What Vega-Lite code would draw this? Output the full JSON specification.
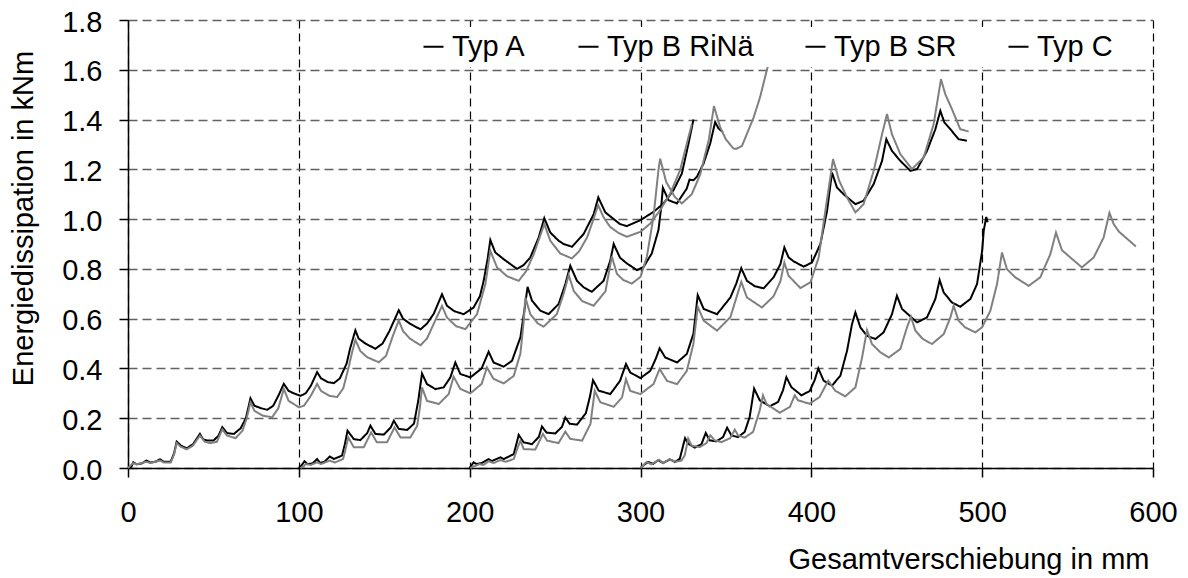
{
"$schema": "https://vega.github.io/schema/vega-lite/v6.json",
"width": 1025, "height": 448,
"autosize": {"type": "none"},
"padding": {"left": 128, "top": 20, "right": 35, "bottom": 110},
"background": "white",
"config": {"view": {"stroke": null}, "font": "Liberation Sans"},
"data": {"values": [
{"t":"Typ A","p":"s","x":0,"y":0},{"t":"Typ A","p":"s","x":2,"y":0.005},{"t":"Typ A","p":"s","x":3.1,"y":0.023},{"t":"Typ A","p":"s","x":5,"y":0.015},{"t":"Typ A","p":"s","x":8,"y":0.018},{"t":"Typ A","p":"s","x":10.9,"y":0.03},{"t":"Typ A","p":"s","x":13,"y":0.022},{"t":"Typ A","p":"s","x":16,"y":0.025},{"t":"Typ A","p":"s","x":18.7,"y":0.035},{"t":"Typ A","p":"s","x":21,"y":0.025},{"t":"Typ A","p":"s","x":25,"y":0.025},{"t":"Typ A","p":"s","x":27,"y":0.06},{"t":"Typ A","p":"s","x":28.5,"y":0.106},{"t":"Typ A","p":"s","x":31,"y":0.09},{"t":"Typ A","p":"s","x":34.3,"y":0.079},{"t":"Typ A","p":"s","x":38,"y":0.095},{"t":"Typ A","p":"s","x":42.1,"y":0.137},{"t":"Typ A","p":"s","x":44,"y":0.115},{"t":"Typ A","p":"s","x":46.4,"y":0.11},{"t":"Typ A","p":"s","x":50,"y":0.11},{"t":"Typ A","p":"s","x":53,"y":0.13},{"t":"Typ A","p":"s","x":55.2,"y":0.164},{"t":"Typ A","p":"s","x":58,"y":0.14},{"t":"Typ A","p":"s","x":62,"y":0.137},{"t":"Typ A","p":"s","x":66,"y":0.16},{"t":"Typ A","p":"s","x":69,"y":0.2},{"t":"Typ A","p":"s","x":71.7,"y":0.28},{"t":"Typ A","p":"s","x":74,"y":0.25},{"t":"Typ A","p":"s","x":78,"y":0.24},{"t":"Typ A","p":"s","x":81.5,"y":0.234},{"t":"Typ A","p":"s","x":85,"y":0.25},{"t":"Typ A","p":"s","x":88,"y":0.29},{"t":"Typ A","p":"s","x":91.2,"y":0.338},{"t":"Typ A","p":"s","x":94,"y":0.31},{"t":"Typ A","p":"s","x":97,"y":0.3},{"t":"Typ A","p":"s","x":101,"y":0.29},{"t":"Typ A","p":"s","x":104,"y":0.3},{"t":"Typ A","p":"s","x":107,"y":0.33},{"t":"Typ A","p":"s","x":110.7,"y":0.385},{"t":"Typ A","p":"s","x":113,"y":0.36},{"t":"Typ A","p":"s","x":117,"y":0.345},{"t":"Typ A","p":"s","x":120.5,"y":0.341},{"t":"Typ A","p":"s","x":124,"y":0.36},{"t":"Typ A","p":"s","x":128,"y":0.42},{"t":"Typ A","p":"s","x":130,"y":0.48},{"t":"Typ A","p":"s","x":133.1,"y":0.553},{"t":"Typ A","p":"s","x":135,"y":0.52},{"t":"Typ A","p":"s","x":139,"y":0.5},{"t":"Typ A","p":"s","x":144.8,"y":0.479},{"t":"Typ A","p":"s","x":149,"y":0.5},{"t":"Typ A","p":"s","x":153,"y":0.55},{"t":"Typ A","p":"s","x":158.5,"y":0.634},{"t":"Typ A","p":"s","x":161,"y":0.6},{"t":"Typ A","p":"s","x":165,"y":0.58},{"t":"Typ A","p":"s","x":171.2,"y":0.557},{"t":"Typ A","p":"s","x":175,"y":0.58},{"t":"Typ A","p":"s","x":179,"y":0.62},{"t":"Typ A","p":"s","x":183.8,"y":0.698},{"t":"Typ A","p":"s","x":186.7,"y":0.652},{"t":"Typ A","p":"s","x":191,"y":0.63},{"t":"Typ A","p":"s","x":196.5,"y":0.618},{"t":"Typ A","p":"s","x":202.3,"y":0.645},{"t":"Typ A","p":"s","x":206,"y":0.69},{"t":"Typ A","p":"s","x":208.2,"y":0.752},{"t":"Typ A","p":"s","x":210.5,"y":0.84},{"t":"Typ A","p":"s","x":212.1,"y":0.916},{"t":"Typ A","p":"s","x":215,"y":0.866},{"t":"Typ A","p":"s","x":219.9,"y":0.839},{"t":"Typ A","p":"s","x":227.7,"y":0.8},{"t":"Typ A","p":"s","x":231.5,"y":0.815},{"t":"Typ A","p":"s","x":235.5,"y":0.846},{"t":"Typ A","p":"s","x":240.4,"y":0.926},{"t":"Typ A","p":"s","x":243.7,"y":1.004},{"t":"Typ A","p":"s","x":247.2,"y":0.946},{"t":"Typ A","p":"s","x":252.1,"y":0.913},{"t":"Typ A","p":"s","x":255,"y":0.9},{"t":"Typ A","p":"s","x":259.9,"y":0.889},{"t":"Typ A","p":"s","x":266.7,"y":0.94},{"t":"Typ A","p":"s","x":272.6,"y":1.02},{"t":"Typ A","p":"s","x":275.3,"y":1.087},{"t":"Typ A","p":"s","x":279.4,"y":1.027},{"t":"Typ A","p":"s","x":284.3,"y":1.0},{"t":"Typ A","p":"s","x":288,"y":0.98},{"t":"Typ A","p":"s","x":292,"y":0.972},{"t":"Typ A","p":"s","x":300,"y":0.996},{"t":"Typ A","p":"s","x":307.6,"y":1.029},{"t":"Typ A","p":"s","x":313.5,"y":1.063},{"t":"Typ A","p":"s","x":319.3,"y":1.116},{"t":"Typ A","p":"s","x":324.2,"y":1.183},{"t":"Typ A","p":"s","x":328.1,"y":1.304},{"t":"Typ A","p":"s","x":331,"y":1.4},
{"t":"Typ A","p":"g","x":0,"y":0},{"t":"Typ A","p":"g","x":3,"y":0.02},{"t":"Typ A","p":"g","x":5,"y":0.015},{"t":"Typ A","p":"g","x":11,"y":0.025},{"t":"Typ A","p":"g","x":13,"y":0.02},{"t":"Typ A","p":"g","x":18.7,"y":0.03},{"t":"Typ A","p":"g","x":21,"y":0.022},{"t":"Typ A","p":"g","x":25,"y":0.022},{"t":"Typ A","p":"g","x":27,"y":0.055},{"t":"Typ A","p":"g","x":28.5,"y":0.1},{"t":"Typ A","p":"g","x":31,"y":0.085},{"t":"Typ A","p":"g","x":34.3,"y":0.075},{"t":"Typ A","p":"g","x":38,"y":0.09},{"t":"Typ A","p":"g","x":42.1,"y":0.13},{"t":"Typ A","p":"g","x":45,"y":0.105},{"t":"Typ A","p":"g","x":48,"y":0.1},{"t":"Typ A","p":"g","x":52,"y":0.105},{"t":"Typ A","p":"g","x":55.2,"y":0.155},{"t":"Typ A","p":"g","x":58,"y":0.13},{"t":"Typ A","p":"g","x":63,"y":0.12},{"t":"Typ A","p":"g","x":67,"y":0.15},{"t":"Typ A","p":"g","x":69.5,"y":0.2},{"t":"Typ A","p":"g","x":71.7,"y":0.264},{"t":"Typ A","p":"g","x":74,"y":0.23},{"t":"Typ A","p":"g","x":79,"y":0.21},{"t":"Typ A","p":"g","x":84.4,"y":0.204},{"t":"Typ A","p":"g","x":88,"y":0.24},{"t":"Typ A","p":"g","x":91.2,"y":0.318},{"t":"Typ A","p":"g","x":94,"y":0.27},{"t":"Typ A","p":"g","x":100,"y":0.244},{"t":"Typ A","p":"g","x":103,"y":0.25},{"t":"Typ A","p":"g","x":107,"y":0.29},{"t":"Typ A","p":"g","x":110.7,"y":0.338},{"t":"Typ A","p":"g","x":113,"y":0.31},{"t":"Typ A","p":"g","x":118,"y":0.29},{"t":"Typ A","p":"g","x":122.4,"y":0.285},{"t":"Typ A","p":"g","x":126,"y":0.32},{"t":"Typ A","p":"g","x":129,"y":0.4},{"t":"Typ A","p":"g","x":131,"y":0.46},{"t":"Typ A","p":"g","x":133.1,"y":0.515},{"t":"Typ A","p":"g","x":136,"y":0.47},{"t":"Typ A","p":"g","x":140,"y":0.445},{"t":"Typ A","p":"g","x":146.8,"y":0.425},{"t":"Typ A","p":"g","x":151,"y":0.45},{"t":"Typ A","p":"g","x":155,"y":0.53},{"t":"Typ A","p":"g","x":158.5,"y":0.593},{"t":"Typ A","p":"g","x":161,"y":0.55},{"t":"Typ A","p":"g","x":165,"y":0.52},{"t":"Typ A","p":"g","x":171.2,"y":0.493},{"t":"Typ A","p":"g","x":175,"y":0.52},{"t":"Typ A","p":"g","x":179,"y":0.58},{"t":"Typ A","p":"g","x":183.8,"y":0.651},{"t":"Typ A","p":"g","x":186.7,"y":0.605},{"t":"Typ A","p":"g","x":192,"y":0.57},{"t":"Typ A","p":"g","x":197.5,"y":0.558},{"t":"Typ A","p":"g","x":204.3,"y":0.618},{"t":"Typ A","p":"g","x":209.2,"y":0.739},{"t":"Typ A","p":"g","x":212.1,"y":0.873},{"t":"Typ A","p":"g","x":216,"y":0.806},{"t":"Typ A","p":"g","x":222,"y":0.77},{"t":"Typ A","p":"g","x":228.7,"y":0.752},{"t":"Typ A","p":"g","x":233,"y":0.79},{"t":"Typ A","p":"g","x":237.5,"y":0.859},{"t":"Typ A","p":"g","x":243.7,"y":0.98},{"t":"Typ A","p":"g","x":247.2,"y":0.913},{"t":"Typ A","p":"g","x":253,"y":0.862},{"t":"Typ A","p":"g","x":259.8,"y":0.842},{"t":"Typ A","p":"g","x":264,"y":0.87},{"t":"Typ A","p":"g","x":268.7,"y":0.926},{"t":"Typ A","p":"g","x":272.5,"y":1.0},{"t":"Typ A","p":"g","x":275.2,"y":1.056},{"t":"Typ A","p":"g","x":278.4,"y":1.007},{"t":"Typ A","p":"g","x":282.2,"y":0.969},{"t":"Typ A","p":"g","x":287,"y":0.945},{"t":"Typ A","p":"g","x":292,"y":0.929},{"t":"Typ A","p":"g","x":300,"y":0.949},{"t":"Typ A","p":"g","x":305.7,"y":0.982},{"t":"Typ A","p":"g","x":311.5,"y":1.036},{"t":"Typ A","p":"g","x":317.4,"y":1.103},{"t":"Typ A","p":"g","x":323.2,"y":1.197},{"t":"Typ A","p":"g","x":328.1,"y":1.33},{"t":"Typ A","p":"g","x":330,"y":1.38},
{"t":"Typ B RiNä","p":"s","x":100,"y":0},{"t":"Typ B RiNä","p":"s","x":101.5,"y":0.01},{"t":"Typ B RiNä","p":"s","x":103.3,"y":0.027},{"t":"Typ B RiNä","p":"s","x":105,"y":0.016},{"t":"Typ B RiNä","p":"s","x":108,"y":0.018},{"t":"Typ B RiNä","p":"s","x":110.7,"y":0.036},{"t":"Typ B RiNä","p":"s","x":112.5,"y":0.02},{"t":"Typ B RiNä","p":"s","x":115,"y":0.025},{"t":"Typ B RiNä","p":"s","x":118.1,"y":0.046},{"t":"Typ B RiNä","p":"s","x":120.5,"y":0.036},{"t":"Typ B RiNä","p":"s","x":125.3,"y":0.05},{"t":"Typ B RiNä","p":"s","x":127,"y":0.097},{"t":"Typ B RiNä","p":"s","x":128.5,"y":0.15},{"t":"Typ B RiNä","p":"s","x":132.2,"y":0.116},{"t":"Typ B RiNä","p":"s","x":136,"y":0.112},{"t":"Typ B RiNä","p":"s","x":140,"y":0.14},{"t":"Typ B RiNä","p":"s","x":141.9,"y":0.17},{"t":"Typ B RiNä","p":"s","x":144.8,"y":0.137},{"t":"Typ B RiNä","p":"s","x":149.7,"y":0.134},{"t":"Typ B RiNä","p":"s","x":153.8,"y":0.163},{"t":"Typ B RiNä","p":"s","x":155.6,"y":0.19},{"t":"Typ B RiNä","p":"s","x":158.5,"y":0.157},{"t":"Typ B RiNä","p":"s","x":163.4,"y":0.153},{"t":"Typ B RiNä","p":"s","x":167.4,"y":0.178},{"t":"Typ B RiNä","p":"s","x":169.9,"y":0.27},{"t":"Typ B RiNä","p":"s","x":172.1,"y":0.38},{"t":"Typ B RiNä","p":"s","x":175,"y":0.337},{"t":"Typ B RiNä","p":"s","x":179.9,"y":0.317},{"t":"Typ B RiNä","p":"s","x":184.8,"y":0.324},{"t":"Typ B RiNä","p":"s","x":188.7,"y":0.364},{"t":"Typ B RiNä","p":"s","x":191.6,"y":0.424},{"t":"Typ B RiNä","p":"s","x":194.5,"y":0.378},{"t":"Typ B RiNä","p":"s","x":200.4,"y":0.364},{"t":"Typ B RiNä","p":"s","x":207,"y":0.4},{"t":"Typ B RiNä","p":"s","x":211.1,"y":0.467},{"t":"Typ B RiNä","p":"s","x":214,"y":0.424},{"t":"Typ B RiNä","p":"s","x":219.9,"y":0.407},{"t":"Typ B RiNä","p":"s","x":224.8,"y":0.431},{"t":"Typ B RiNä","p":"s","x":229.7,"y":0.525},{"t":"Typ B RiNä","p":"s","x":232,"y":0.632},{"t":"Typ B RiNä","p":"s","x":233.9,"y":0.728},{"t":"Typ B RiNä","p":"s","x":236.5,"y":0.672},{"t":"Typ B RiNä","p":"s","x":241.4,"y":0.632},{"t":"Typ B RiNä","p":"s","x":246.2,"y":0.618},{"t":"Typ B RiNä","p":"s","x":252.1,"y":0.659},{"t":"Typ B RiNä","p":"s","x":256,"y":0.739},{"t":"Typ B RiNä","p":"s","x":258.9,"y":0.813},{"t":"Typ B RiNä","p":"s","x":262.8,"y":0.752},{"t":"Typ B RiNä","p":"s","x":266.7,"y":0.726},{"t":"Typ B RiNä","p":"s","x":271.5,"y":0.708},{"t":"Typ B RiNä","p":"s","x":278.4,"y":0.752},{"t":"Typ B RiNä","p":"s","x":282.3,"y":0.833},{"t":"Typ B RiNä","p":"s","x":284.3,"y":0.9},{"t":"Typ B RiNä","p":"s","x":288,"y":0.845},{"t":"Typ B RiNä","p":"s","x":292,"y":0.822},{"t":"Typ B RiNä","p":"s","x":297.9,"y":0.795},{"t":"Typ B RiNä","p":"s","x":301.8,"y":0.808},{"t":"Typ B RiNä","p":"s","x":306.6,"y":0.862},{"t":"Typ B RiNä","p":"s","x":310.5,"y":0.956},{"t":"Typ B RiNä","p":"s","x":312,"y":1.04},{"t":"Typ B RiNä","p":"s","x":313.1,"y":1.126},{"t":"Typ B RiNä","p":"s","x":316.4,"y":1.076},{"t":"Typ B RiNä","p":"s","x":321.3,"y":1.063},{"t":"Typ B RiNä","p":"s","x":327.1,"y":1.123},{"t":"Typ B RiNä","p":"s","x":328.7,"y":1.159},{"t":"Typ B RiNä","p":"s","x":331,"y":1.156},{"t":"Typ B RiNä","p":"s","x":333,"y":1.17},{"t":"Typ B RiNä","p":"s","x":336.9,"y":1.223},{"t":"Typ B RiNä","p":"s","x":340.8,"y":1.304},{"t":"Typ B RiNä","p":"s","x":343.7,"y":1.39},{"t":"Typ B RiNä","p":"s","x":345.7,"y":1.364},{"t":"Typ B RiNä","p":"s","x":348.2,"y":1.35},
{"t":"Typ B RiNä","p":"g","x":100.9,"y":0},{"t":"Typ B RiNä","p":"g","x":103,"y":0.008},{"t":"Typ B RiNä","p":"g","x":104,"y":0.016},{"t":"Typ B RiNä","p":"g","x":107,"y":0.012},{"t":"Typ B RiNä","p":"g","x":110.7,"y":0.023},{"t":"Typ B RiNä","p":"g","x":113,"y":0.016},{"t":"Typ B RiNä","p":"g","x":118.1,"y":0.03},{"t":"Typ B RiNä","p":"g","x":121,"y":0.022},{"t":"Typ B RiNä","p":"g","x":125.9,"y":0.036},{"t":"Typ B RiNä","p":"g","x":127.5,"y":0.08},{"t":"Typ B RiNä","p":"g","x":128.9,"y":0.123},{"t":"Typ B RiNä","p":"g","x":132.2,"y":0.083},{"t":"Typ B RiNä","p":"g","x":138,"y":0.083},{"t":"Typ B RiNä","p":"g","x":142.3,"y":0.143},{"t":"Typ B RiNä","p":"g","x":145.7,"y":0.103},{"t":"Typ B RiNä","p":"g","x":151.6,"y":0.103},{"t":"Typ B RiNä","p":"g","x":156,"y":0.163},{"t":"Typ B RiNä","p":"g","x":159.5,"y":0.123},{"t":"Typ B RiNä","p":"g","x":165.3,"y":0.123},{"t":"Typ B RiNä","p":"g","x":169.3,"y":0.17},{"t":"Typ B RiNä","p":"g","x":171,"y":0.25},{"t":"Typ B RiNä","p":"g","x":172.1,"y":0.324},{"t":"Typ B RiNä","p":"g","x":175,"y":0.27},{"t":"Typ B RiNä","p":"g","x":181.9,"y":0.257},{"t":"Typ B RiNä","p":"g","x":187.7,"y":0.297},{"t":"Typ B RiNä","p":"g","x":190.6,"y":0.367},{"t":"Typ B RiNä","p":"g","x":194.5,"y":0.318},{"t":"Typ B RiNä","p":"g","x":200.4,"y":0.3},{"t":"Typ B RiNä","p":"g","x":207,"y":0.338},{"t":"Typ B RiNä","p":"g","x":210.1,"y":0.404},{"t":"Typ B RiNä","p":"g","x":214,"y":0.358},{"t":"Typ B RiNä","p":"g","x":219.9,"y":0.34},{"t":"Typ B RiNä","p":"g","x":225.8,"y":0.37},{"t":"Typ B RiNä","p":"g","x":229.7,"y":0.46},{"t":"Typ B RiNä","p":"g","x":231.5,"y":0.58},{"t":"Typ B RiNä","p":"g","x":232.6,"y":0.685},{"t":"Typ B RiNä","p":"g","x":235.5,"y":0.618},{"t":"Typ B RiNä","p":"g","x":240,"y":0.58},{"t":"Typ B RiNä","p":"g","x":243.3,"y":0.568},{"t":"Typ B RiNä","p":"g","x":251,"y":0.618},{"t":"Typ B RiNä","p":"g","x":255,"y":0.7},{"t":"Typ B RiNä","p":"g","x":258,"y":0.775},{"t":"Typ B RiNä","p":"g","x":261,"y":0.71},{"t":"Typ B RiNä","p":"g","x":266,"y":0.67},{"t":"Typ B RiNä","p":"g","x":272.6,"y":0.652},{"t":"Typ B RiNä","p":"g","x":279.5,"y":0.71},{"t":"Typ B RiNä","p":"g","x":283.2,"y":0.85},{"t":"Typ B RiNä","p":"g","x":286.2,"y":0.78},{"t":"Typ B RiNä","p":"g","x":290,"y":0.755},{"t":"Typ B RiNä","p":"g","x":294.9,"y":0.741},{"t":"Typ B RiNä","p":"g","x":300,"y":0.768},{"t":"Typ B RiNä","p":"g","x":303.7,"y":0.848},{"t":"Typ B RiNä","p":"g","x":307.6,"y":1.009},{"t":"Typ B RiNä","p":"g","x":310.5,"y":1.197},{"t":"Typ B RiNä","p":"g","x":311.5,"y":1.243},{"t":"Typ B RiNä","p":"g","x":315,"y":1.15},{"t":"Typ B RiNä","p":"g","x":320,"y":1.09},{"t":"Typ B RiNä","p":"g","x":324.2,"y":1.063},{"t":"Typ B RiNä","p":"g","x":330,"y":1.1},{"t":"Typ B RiNä","p":"g","x":335,"y":1.18},{"t":"Typ B RiNä","p":"g","x":340,"y":1.32},{"t":"Typ B RiNä","p":"g","x":343,"y":1.454},{"t":"Typ B RiNä","p":"g","x":346.6,"y":1.37},{"t":"Typ B RiNä","p":"g","x":350,"y":1.32},{"t":"Typ B RiNä","p":"g","x":354.4,"y":1.284},{"t":"Typ B RiNä","p":"g","x":356,"y":1.282},{"t":"Typ B RiNä","p":"g","x":359.4,"y":1.294},{"t":"Typ B RiNä","p":"g","x":366.2,"y":1.408},{"t":"Typ B RiNä","p":"g","x":370,"y":1.49},{"t":"Typ B RiNä","p":"g","x":374,"y":1.6},{"t":"Typ B RiNä","p":"g","x":375,"y":1.625},
{"t":"Typ B SR","p":"s","x":200,"y":0},{"t":"Typ B SR","p":"s","x":201,"y":0.01},{"t":"Typ B SR","p":"s","x":202.3,"y":0.023},{"t":"Typ B SR","p":"s","x":204,"y":0.016},{"t":"Typ B SR","p":"s","x":207,"y":0.02},{"t":"Typ B SR","p":"s","x":211.1,"y":0.036},{"t":"Typ B SR","p":"s","x":213,"y":0.028},{"t":"Typ B SR","p":"s","x":218,"y":0.043},{"t":"Typ B SR","p":"s","x":220,"y":0.036},{"t":"Typ B SR","p":"s","x":225.8,"y":0.056},{"t":"Typ B SR","p":"s","x":227.5,"y":0.1},{"t":"Typ B SR","p":"s","x":228.7,"y":0.133},{"t":"Typ B SR","p":"s","x":231.6,"y":0.103},{"t":"Typ B SR","p":"s","x":236.5,"y":0.096},{"t":"Typ B SR","p":"s","x":240.5,"y":0.125},{"t":"Typ B SR","p":"s","x":242.3,"y":0.167},{"t":"Typ B SR","p":"s","x":245,"y":0.142},{"t":"Typ B SR","p":"s","x":250.1,"y":0.139},{"t":"Typ B SR","p":"s","x":254,"y":0.165},{"t":"Typ B SR","p":"s","x":256,"y":0.203},{"t":"Typ B SR","p":"s","x":258.5,"y":0.178},{"t":"Typ B SR","p":"s","x":262.8,"y":0.174},{"t":"Typ B SR","p":"s","x":268,"y":0.22},{"t":"Typ B SR","p":"s","x":270.5,"y":0.29},{"t":"Typ B SR","p":"s","x":272.2,"y":0.353},{"t":"Typ B SR","p":"s","x":275.5,"y":0.311},{"t":"Typ B SR","p":"s","x":282.3,"y":0.297},{"t":"Typ B SR","p":"s","x":288,"y":0.35},{"t":"Typ B SR","p":"s","x":291.5,"y":0.418},{"t":"Typ B SR","p":"s","x":294,"y":0.384},{"t":"Typ B SR","p":"s","x":299.9,"y":0.361},{"t":"Typ B SR","p":"s","x":305.7,"y":0.39},{"t":"Typ B SR","p":"s","x":309,"y":0.44},{"t":"Typ B SR","p":"s","x":311.2,"y":0.481},{"t":"Typ B SR","p":"s","x":314.5,"y":0.444},{"t":"Typ B SR","p":"s","x":321.4,"y":0.424},{"t":"Typ B SR","p":"s","x":327.1,"y":0.458},{"t":"Typ B SR","p":"s","x":331,"y":0.54},{"t":"Typ B SR","p":"s","x":333.5,"y":0.695},{"t":"Typ B SR","p":"s","x":337,"y":0.639},{"t":"Typ B SR","p":"s","x":344.8,"y":0.618},{"t":"Typ B SR","p":"s","x":352.6,"y":0.685},{"t":"Typ B SR","p":"s","x":356,"y":0.74},{"t":"Typ B SR","p":"s","x":359,"y":0.803},{"t":"Typ B SR","p":"s","x":362.3,"y":0.752},{"t":"Typ B SR","p":"s","x":367,"y":0.73},{"t":"Typ B SR","p":"s","x":372.1,"y":0.722},{"t":"Typ B SR","p":"s","x":377.9,"y":0.766},{"t":"Typ B SR","p":"s","x":381.9,"y":0.819},{"t":"Typ B SR","p":"s","x":384.2,"y":0.886},{"t":"Typ B SR","p":"s","x":386.7,"y":0.846},{"t":"Typ B SR","p":"s","x":389.7,"y":0.83},{"t":"Typ B SR","p":"s","x":395.5,"y":0.809},{"t":"Typ B SR","p":"s","x":400.4,"y":0.826},{"t":"Typ B SR","p":"s","x":405.3,"y":0.9},{"t":"Typ B SR","p":"s","x":409.2,"y":1.033},{"t":"Typ B SR","p":"s","x":412.1,"y":1.187},{"t":"Typ B SR","p":"s","x":415,"y":1.127},{"t":"Typ B SR","p":"s","x":418.9,"y":1.1},{"t":"Typ B SR","p":"s","x":425.8,"y":1.06},{"t":"Typ B SR","p":"s","x":430.6,"y":1.074},{"t":"Typ B SR","p":"s","x":436.5,"y":1.141},{"t":"Typ B SR","p":"s","x":441.4,"y":1.234},{"t":"Typ B SR","p":"s","x":443.9,"y":1.321},{"t":"Typ B SR","p":"s","x":447.2,"y":1.274},{"t":"Typ B SR","p":"s","x":452.1,"y":1.234},{"t":"Typ B SR","p":"s","x":458,"y":1.194},{"t":"Typ B SR","p":"s","x":461.9,"y":1.201},{"t":"Typ B SR","p":"s","x":467.7,"y":1.274},{"t":"Typ B SR","p":"s","x":472.6,"y":1.361},{"t":"Typ B SR","p":"s","x":475.5,"y":1.435},{"t":"Typ B SR","p":"s","x":477.9,"y":1.388},{"t":"Typ B SR","p":"s","x":481.4,"y":1.361},{"t":"Typ B SR","p":"s","x":486.2,"y":1.321},{"t":"Typ B SR","p":"s","x":491.1,"y":1.315},
{"t":"Typ B SR","p":"g","x":200.4,"y":0},{"t":"Typ B SR","p":"g","x":203,"y":0.008},{"t":"Typ B SR","p":"g","x":205.9,"y":0.016},{"t":"Typ B SR","p":"g","x":208,"y":0.012},{"t":"Typ B SR","p":"g","x":211.1,"y":0.027},{"t":"Typ B SR","p":"g","x":214,"y":0.02},{"t":"Typ B SR","p":"g","x":218,"y":0.032},{"t":"Typ B SR","p":"g","x":221,"y":0.025},{"t":"Typ B SR","p":"g","x":225.8,"y":0.036},{"t":"Typ B SR","p":"g","x":228,"y":0.08},{"t":"Typ B SR","p":"g","x":229.7,"y":0.11},{"t":"Typ B SR","p":"g","x":231.6,"y":0.076},{"t":"Typ B SR","p":"g","x":238.4,"y":0.074},{"t":"Typ B SR","p":"g","x":242.9,"y":0.137},{"t":"Typ B SR","p":"g","x":245.3,"y":0.11},{"t":"Typ B SR","p":"g","x":252,"y":0.1},{"t":"Typ B SR","p":"g","x":256,"y":0.146},{"t":"Typ B SR","p":"g","x":258.9,"y":0.117},{"t":"Typ B SR","p":"g","x":265.8,"y":0.11},{"t":"Typ B SR","p":"g","x":270.7,"y":0.177},{"t":"Typ B SR","p":"g","x":273.2,"y":0.31},{"t":"Typ B SR","p":"g","x":276.5,"y":0.264},{"t":"Typ B SR","p":"g","x":284.3,"y":0.246},{"t":"Typ B SR","p":"g","x":289.2,"y":0.284},{"t":"Typ B SR","p":"g","x":291.5,"y":0.357},{"t":"Typ B SR","p":"g","x":294,"y":0.31},{"t":"Typ B SR","p":"g","x":299.9,"y":0.297},{"t":"Typ B SR","p":"g","x":307.6,"y":0.337},{"t":"Typ B SR","p":"g","x":311.2,"y":0.398},{"t":"Typ B SR","p":"g","x":315.5,"y":0.35},{"t":"Typ B SR","p":"g","x":321.4,"y":0.337},{"t":"Typ B SR","p":"g","x":327.1,"y":0.39},{"t":"Typ B SR","p":"g","x":331,"y":0.5},{"t":"Typ B SR","p":"g","x":333.5,"y":0.648},{"t":"Typ B SR","p":"g","x":337,"y":0.592},{"t":"Typ B SR","p":"g","x":344.8,"y":0.552},{"t":"Typ B SR","p":"g","x":352.6,"y":0.606},{"t":"Typ B SR","p":"g","x":359,"y":0.748},{"t":"Typ B SR","p":"g","x":362.3,"y":0.685},{"t":"Typ B SR","p":"g","x":371.1,"y":0.645},{"t":"Typ B SR","p":"g","x":377.9,"y":0.69},{"t":"Typ B SR","p":"g","x":381.9,"y":0.75},{"t":"Typ B SR","p":"g","x":384.2,"y":0.826},{"t":"Typ B SR","p":"g","x":386.7,"y":0.772},{"t":"Typ B SR","p":"g","x":393.6,"y":0.723},{"t":"Typ B SR","p":"g","x":399.5,"y":0.746},{"t":"Typ B SR","p":"g","x":404.3,"y":0.846},{"t":"Typ B SR","p":"g","x":408.2,"y":1.033},{"t":"Typ B SR","p":"g","x":412.7,"y":1.241},{"t":"Typ B SR","p":"g","x":416.3,"y":1.154},{"t":"Typ B SR","p":"g","x":420.9,"y":1.087},{"t":"Typ B SR","p":"g","x":425.8,"y":1.027},{"t":"Typ B SR","p":"g","x":430.6,"y":1.06},{"t":"Typ B SR","p":"g","x":436.5,"y":1.194},{"t":"Typ B SR","p":"g","x":441.4,"y":1.341},{"t":"Typ B SR","p":"g","x":444.3,"y":1.422},{"t":"Typ B SR","p":"g","x":447.2,"y":1.341},{"t":"Typ B SR","p":"g","x":452.1,"y":1.261},{"t":"Typ B SR","p":"g","x":458.9,"y":1.201},{"t":"Typ B SR","p":"g","x":465.8,"y":1.248},{"t":"Typ B SR","p":"g","x":471.6,"y":1.382},{"t":"Typ B SR","p":"g","x":475.9,"y":1.562},{"t":"Typ B SR","p":"g","x":478.4,"y":1.502},{"t":"Typ B SR","p":"g","x":482.3,"y":1.442},{"t":"Typ B SR","p":"g","x":487.2,"y":1.361},{"t":"Typ B SR","p":"g","x":492.1,"y":1.352},
{"t":"Typ C","p":"s","x":300,"y":0},{"t":"Typ C","p":"s","x":302.5,"y":0.015},{"t":"Typ C","p":"s","x":304.5,"y":0.024},{"t":"Typ C","p":"s","x":307.4,"y":0.017},{"t":"Typ C","p":"s","x":310.3,"y":0.031},{"t":"Typ C","p":"s","x":313.3,"y":0.02},{"t":"Typ C","p":"s","x":317.2,"y":0.035},{"t":"Typ C","p":"s","x":320.1,"y":0.024},{"t":"Typ C","p":"s","x":323,"y":0.037},{"t":"Typ C","p":"s","x":325,"y":0.091},{"t":"Typ C","p":"s","x":326.1,"y":0.12},{"t":"Typ C","p":"s","x":327.9,"y":0.098},{"t":"Typ C","p":"s","x":331.8,"y":0.082},{"t":"Typ C","p":"s","x":335.7,"y":0.096},{"t":"Typ C","p":"s","x":338.2,"y":0.141},{"t":"Typ C","p":"s","x":340.5,"y":0.111},{"t":"Typ C","p":"s","x":344.4,"y":0.107},{"t":"Typ C","p":"s","x":348.3,"y":0.124},{"t":"Typ C","p":"s","x":350.7,"y":0.162},{"t":"Typ C","p":"s","x":353.2,"y":0.131},{"t":"Typ C","p":"s","x":357.1,"y":0.124},{"t":"Typ C","p":"s","x":361,"y":0.145},{"t":"Typ C","p":"s","x":363.9,"y":0.205},{"t":"Typ C","p":"s","x":366.5,"y":0.319},{"t":"Typ C","p":"s","x":369.8,"y":0.272},{"t":"Typ C","p":"s","x":375.6,"y":0.248},{"t":"Typ C","p":"s","x":380.5,"y":0.265},{"t":"Typ C","p":"s","x":383.4,"y":0.312},{"t":"Typ C","p":"s","x":385.4,"y":0.365},{"t":"Typ C","p":"s","x":388.3,"y":0.325},{"t":"Typ C","p":"s","x":394.2,"y":0.292},{"t":"Typ C","p":"s","x":399,"y":0.309},{"t":"Typ C","p":"s","x":401.9,"y":0.352},{"t":"Typ C","p":"s","x":404.1,"y":0.4},{"t":"Typ C","p":"s","x":407.2,"y":0.351},{"t":"Typ C","p":"s","x":412.1,"y":0.331},{"t":"Typ C","p":"s","x":417,"y":0.371},{"t":"Typ C","p":"s","x":420.9,"y":0.471},{"t":"Typ C","p":"s","x":423.8,"y":0.578},{"t":"Typ C","p":"s","x":425.8,"y":0.625},{"t":"Typ C","p":"s","x":428.7,"y":0.565},{"t":"Typ C","p":"s","x":432.6,"y":0.531},{"t":"Typ C","p":"s","x":437.5,"y":0.518},{"t":"Typ C","p":"s","x":442.3,"y":0.545},{"t":"Typ C","p":"s","x":447.2,"y":0.618},{"t":"Typ C","p":"s","x":450.1,"y":0.692},{"t":"Typ C","p":"s","x":453.1,"y":0.639},{"t":"Typ C","p":"s","x":461.9,"y":0.585},{"t":"Typ C","p":"s","x":467.7,"y":0.605},{"t":"Typ C","p":"s","x":472.6,"y":0.679},{"t":"Typ C","p":"s","x":475.1,"y":0.755},{"t":"Typ C","p":"s","x":477.5,"y":0.705},{"t":"Typ C","p":"s","x":482.3,"y":0.665},{"t":"Typ C","p":"s","x":487.2,"y":0.648},{"t":"Typ C","p":"s","x":493.1,"y":0.679},{"t":"Typ C","p":"s","x":497,"y":0.739},{"t":"Typ C","p":"s","x":500,"y":0.873},{"t":"Typ C","p":"s","x":500.9,"y":0.953},{"t":"Typ C","p":"s","x":502.4,"y":1.009},{"t":"Typ C","p":"s","x":503.2,"y":0.987},
{"t":"Typ C","p":"g","x":300,"y":0},{"t":"Typ C","p":"g","x":301.5,"y":0.01},{"t":"Typ C","p":"g","x":303.5,"y":0.024},{"t":"Typ C","p":"g","x":306.4,"y":0.015},{"t":"Typ C","p":"g","x":310.9,"y":0.033},{"t":"Typ C","p":"g","x":313.3,"y":0.02},{"t":"Typ C","p":"g","x":316.8,"y":0.035},{"t":"Typ C","p":"g","x":320.5,"y":0.025},{"t":"Typ C","p":"g","x":324,"y":0.03},{"t":"Typ C","p":"g","x":325.9,"y":0.051},{"t":"Typ C","p":"g","x":327.9,"y":0.118},{"t":"Typ C","p":"g","x":329.9,"y":0.09},{"t":"Typ C","p":"g","x":334.7,"y":0.084},{"t":"Typ C","p":"g","x":338.6,"y":0.1},{"t":"Typ C","p":"g","x":340.9,"y":0.131},{"t":"Typ C","p":"g","x":343.4,"y":0.111},{"t":"Typ C","p":"g","x":347.4,"y":0.104},{"t":"Typ C","p":"g","x":352.5,"y":0.12},{"t":"Typ C","p":"g","x":355.2,"y":0.154},{"t":"Typ C","p":"g","x":357.1,"y":0.131},{"t":"Typ C","p":"g","x":361,"y":0.122},{"t":"Typ C","p":"g","x":365.9,"y":0.145},{"t":"Typ C","p":"g","x":369.8,"y":0.232},{"t":"Typ C","p":"g","x":371.7,"y":0.292},{"t":"Typ C","p":"g","x":373.7,"y":0.258},{"t":"Typ C","p":"g","x":377.6,"y":0.24},{"t":"Typ C","p":"g","x":381.5,"y":0.222},{"t":"Typ C","p":"g","x":387.4,"y":0.245},{"t":"Typ C","p":"g","x":390.3,"y":0.292},{"t":"Typ C","p":"g","x":392.2,"y":0.272},{"t":"Typ C","p":"g","x":399,"y":0.258},{"t":"Typ C","p":"g","x":404.8,"y":0.285},{"t":"Typ C","p":"g","x":409.9,"y":0.351},{"t":"Typ C","p":"g","x":414,"y":0.31},{"t":"Typ C","p":"g","x":419.9,"y":0.288},{"t":"Typ C","p":"g","x":425.8,"y":0.324},{"t":"Typ C","p":"g","x":429.7,"y":0.444},{"t":"Typ C","p":"g","x":432.6,"y":0.554},{"t":"Typ C","p":"g","x":435.5,"y":0.498},{"t":"Typ C","p":"g","x":440.4,"y":0.465},{"t":"Typ C","p":"g","x":445.3,"y":0.444},{"t":"Typ C","p":"g","x":452.1,"y":0.478},{"t":"Typ C","p":"g","x":456,"y":0.565},{"t":"Typ C","p":"g","x":458.3,"y":0.608},{"t":"Typ C","p":"g","x":460.9,"y":0.552},{"t":"Typ C","p":"g","x":465,"y":0.52},{"t":"Typ C","p":"g","x":470.6,"y":0.498},{"t":"Typ C","p":"g","x":477.5,"y":0.538},{"t":"Typ C","p":"g","x":481.4,"y":0.605},{"t":"Typ C","p":"g","x":483.3,"y":0.652},{"t":"Typ C","p":"g","x":486.2,"y":0.592},{"t":"Typ C","p":"g","x":490,"y":0.565},{"t":"Typ C","p":"g","x":496,"y":0.545},{"t":"Typ C","p":"g","x":499.9,"y":0.565},{"t":"Typ C","p":"g","x":504.8,"y":0.632},{"t":"Typ C","p":"g","x":508.7,"y":0.739},{"t":"Typ C","p":"g","x":511.6,"y":0.866},{"t":"Typ C","p":"g","x":514.5,"y":0.799},{"t":"Typ C","p":"g","x":519.4,"y":0.766},{"t":"Typ C","p":"g","x":527.2,"y":0.732},{"t":"Typ C","p":"g","x":534,"y":0.766},{"t":"Typ C","p":"g","x":539.9,"y":0.859},{"t":"Typ C","p":"g","x":543.2,"y":0.946},{"t":"Typ C","p":"g","x":546.7,"y":0.875},{"t":"Typ C","p":"g","x":551.6,"y":0.846},{"t":"Typ C","p":"g","x":558.4,"y":0.806},{"t":"Typ C","p":"g","x":565.3,"y":0.846},{"t":"Typ C","p":"g","x":571.1,"y":0.926},{"t":"Typ C","p":"g","x":574.5,"y":1.025},{"t":"Typ C","p":"g","x":577,"y":0.98},{"t":"Typ C","p":"g","x":580,"y":0.95},{"t":"Typ C","p":"g","x":585,"y":0.92},{"t":"Typ C","p":"g","x":590,"y":0.89}
]},
"encoding": {
"x": {"field": "x", "type": "quantitative", "scale": {"domain": [0, 600], "nice": false},
 "axis": {"values": [0,100,200,300,400,500,600], "title": "Gesamtverschiebung in mm", "grid": true, "gridColor": "#000000", "gridDash": [8,5], "gridWidth": 1.2, "domainColor": "#000000", "domainWidth": 1.5, "tickColor": "#000000", "tickWidth": 1.5, "tickSize": 9, "labelFont": "Liberation Sans", "labelFontSize": 29, "labelColor": "#000000", "labelPadding": 21, "labelFlush": false, "labelOverlap": false, "titleFont": "Liberation Sans", "titleFontSize": 29, "titleFontWeight": "normal", "titleColor": "#000000", "titleAlign": "right", "titleBaseline": "alphabetic", "titleX": 1021, "titleY": 100}},
"y": {"field": "y", "type": "quantitative", "scale": {"domain": [0, 1.8], "nice": false},
 "axis": {"values": [0,0.2,0.4,0.6,0.8,1.0,1.2,1.4,1.6,1.8], "format": ".1f", "title": "Energiedissipation in kNm", "grid": true, "gridColor": "#606060", "gridDash": [9,5], "gridWidth": 1.3, "domainColor": "#000000", "domainWidth": 1.5, "tickColor": "#000000", "tickWidth": 1.5, "tickSize": 9, "labelFont": "Liberation Sans", "labelFontSize": 29, "labelColor": "#000000", "labelPadding": 17, "labelOffset": 2, "labelOverlap": false, "titleFont": "Liberation Sans", "titleFontSize": 29, "titleFontWeight": "normal", "titleColor": "#000000", "titleAngle": -90, "titleAlign": "center", "titleBaseline": "alphabetic", "titleX": -96, "titleY": 198}},
"strokeDash": {"field": "t", "type": "nominal",
 "scale": {"domain": ["Typ A", "Typ B RiNä", "Typ B SR", "Typ C"], "range": [[1,0],[1,0],[1,0],[1,0]]},
 "legend": {"title": null, "orient": "none", "legendX": 286, "legendY": 7, "direction": "horizontal", "symbolType": "stroke", "symbolSize": 400, "symbolStrokeWidth": 2, "symbolStrokeColor": "#000000", "labelFont": "Liberation Sans", "labelFontSize": 29, "labelColor": "#000000", "labelOffset": 4, "labelLimit": 0, "columnPadding": 47, "fillColor": "white", "padding": 5}}
},
"layer": [
{"transform": [{"filter": "datum.p == 's'"}], "mark": {"type": "line", "color": "#000000", "strokeWidth": 2}},
{"transform": [{"filter": "datum.p == 'g'"}], "mark": {"type": "line", "color": "#808080", "strokeWidth": 2}}
]
}
